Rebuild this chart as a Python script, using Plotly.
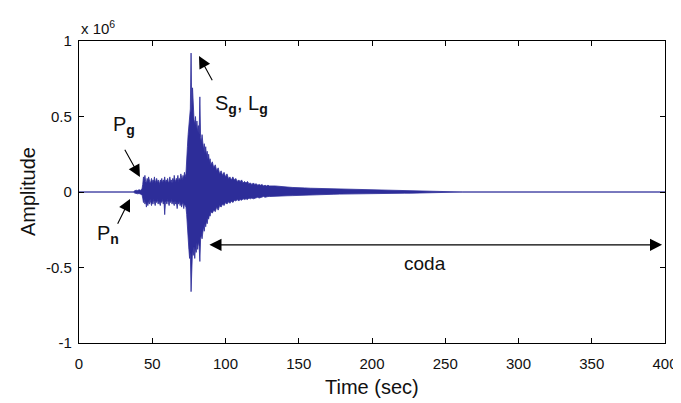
import plotly.graph_objects as go

# ---- data (amplitude in units of 1e6) ----
env_time = [0, 37, 38, 39, 40, 41, 42, 43, 43.5,
            44, 44.5, 45, 45.5, 46, 46.5, 47, 47.5, 48, 48.5, 49, 49.5, 50, 50.5, 51, 51.5,
            52, 52.5, 53, 53.5, 54, 54.5, 55, 55.5, 56, 56.5, 57, 57.5, 58, 58.5, 59, 59.5,
            60, 60.5, 61, 61.5, 62, 62.5, 63, 63.5, 64, 64.5, 65, 65.5, 66, 66.5, 67, 67.5,
            68, 68.5, 69, 69.5, 70, 70.5, 71, 71.5, 72, 72.5, 73,
            73.5, 74, 74.5, 75, 75.5, 76, 76.5, 77, 77.5, 78, 78.5, 79, 79.5, 80, 80.5, 81,
            81.5, 82, 82.5, 83, 83.5, 84, 84.5, 85, 85.5, 86, 86.5, 87, 87.5, 88, 88.5, 89,
            89.5, 90,
            91, 92, 93, 94, 95, 96, 97, 98, 99, 100, 101, 102, 103, 104, 105, 106, 107, 108,
            109, 110, 111, 112, 113, 114, 115, 116, 117, 118, 119, 120, 121, 122, 123, 124,
            125, 126, 127, 128, 129, 130,
            134, 138, 142, 146, 150, 154, 158, 162, 166, 170, 174, 178, 182, 186, 190, 194,
            198, 202, 206, 210, 214, 218, 222, 226, 230, 234, 238, 242, 246, 250, 254, 258,
            262, 400]

env_upper = [0, 0, 0.008, 0.012, 0.01, 0.015, 0.012, 0.02, 0.05,
             0.10, 0.08, 0.11, 0.07, 0.06, 0.09, 0.07, 0.10, 0.08, 0.06, 0.07, 0.09, 0.06, 0.08, 0.07, 0.10,
             0.06, 0.07, 0.09, 0.06, 0.08, 0.07, 0.05, 0.08, 0.07, 0.09, 0.06, 0.08, 0.07, 0.10, 0.06, 0.08,
             0.07, 0.09, 0.06, 0.07, 0.10, 0.07, 0.08, 0.06, 0.09, 0.07, 0.11, 0.08, 0.07, 0.09, 0.08, 0.11,
             0.07, 0.09, 0.08, 0.12, 0.09, 0.08, 0.11, 0.09, 0.13, 0.10, 0.12,
             0.18, 0.30, 0.38, 0.45, 0.50, 0.55, 0.92, 0.52, 0.69, 0.55, 0.48, 0.45, 0.50, 0.42, 0.47, 0.40,
             0.44, 0.38, 0.63, 0.36, 0.33, 0.38, 0.30, 0.28, 0.32, 0.26, 0.30, 0.24, 0.27, 0.22, 0.25, 0.20,
             0.22, 0.18,
             0.20, 0.16, 0.18, 0.14, 0.16, 0.12, 0.14, 0.11, 0.13, 0.10, 0.12, 0.09, 0.10, 0.08, 0.10, 0.08,
             0.09, 0.07, 0.08, 0.07, 0.08, 0.06, 0.07, 0.06, 0.07, 0.055, 0.06, 0.05, 0.06, 0.05, 0.055,
             0.045, 0.05, 0.045, 0.05, 0.04, 0.045, 0.04, 0.045, 0.04,
             0.04, 0.035, 0.033, 0.03, 0.03, 0.027, 0.025, 0.024, 0.022, 0.02, 0.019, 0.018, 0.017, 0.016,
             0.015, 0.014, 0.014, 0.013, 0.012, 0.012, 0.011, 0.01, 0.01, 0.009, 0.008, 0.007, 0.006,
             0.005, 0.004, 0.004, 0.003, 0.002, 0.0, 0.0]

env_lower = [0, 0, -0.007, -0.01, -0.012, -0.01, -0.014, -0.018, -0.04,
             -0.07, -0.05, -0.08, -0.06, -0.10, -0.07, -0.09, -0.06, -0.08, -0.05, -0.07, -0.09, -0.06, -0.08, -0.05, -0.07,
             -0.09, -0.06, -0.07, -0.05, -0.08, -0.06, -0.07, -0.09, -0.06, -0.07, -0.05, -0.08, -0.06, -0.15, -0.07, -0.06,
             -0.08, -0.05, -0.07, -0.09, -0.06, -0.07, -0.05, -0.08, -0.06, -0.07, -0.09, -0.06, -0.08, -0.07, -0.11, -0.07,
             -0.08, -0.06, -0.09, -0.07, -0.10, -0.08, -0.07, -0.11, -0.08, -0.09, -0.10,
             -0.15, -0.25, -0.32, -0.38, -0.44, -0.40, -0.66, -0.45, -0.38, -0.42, -0.36, -0.44, -0.37, -0.40, -0.34, -0.38,
             -0.33, -0.36, -0.46, -0.31, -0.28, -0.31, -0.25, -0.23, -0.26, -0.21, -0.23, -0.19, -0.21, -0.17, -0.18, -0.15,
             -0.16, -0.13,
             -0.14, -0.12, -0.13, -0.10, -0.12, -0.09, -0.10, -0.08, -0.09, -0.07, -0.08, -0.065, -0.075, -0.06, -0.07,
             -0.055, -0.06, -0.05, -0.06, -0.05, -0.055, -0.045, -0.05, -0.045, -0.05, -0.04, -0.045, -0.04, -0.045,
             -0.04, -0.04, -0.035, -0.04, -0.035, -0.035, -0.03, -0.035, -0.03, -0.03, -0.03,
             -0.03, -0.028, -0.025, -0.024, -0.022, -0.02, -0.02, -0.018, -0.017, -0.016, -0.015, -0.014, -0.013,
             -0.013, -0.012, -0.012, -0.011, -0.011, -0.01, -0.01, -0.009, -0.009, -0.008, -0.008, -0.007, -0.006,
             -0.005, -0.004, -0.004, -0.003, -0.003, -0.002, 0.0, 0.0]

x_ticks = [0, 50, 100, 150, 200, 250, 300, 350, 400]
y_ticks = [-1, -0.5, 0, 0.5, 1]
y_tick_text = ["-1", "-0.5", "0", "0.5", "1"]

WAVE = "#2d2d99"
FONT = "Liberation Sans, Arial, Helvetica, sans-serif"

fig = go.Figure()
fig.add_trace(go.Scatter(x=env_time, y=env_upper, mode="lines",
                         line=dict(color=WAVE, width=0.8), hoverinfo="skip", showlegend=False))
fig.add_trace(go.Scatter(x=env_time, y=env_lower, mode="lines", fill="tonexty",
                         fillcolor=WAVE, line=dict(color=WAVE, width=0.8),
                         hoverinfo="skip", showlegend=False))

axis_common = dict(showline=True, linecolor="black", linewidth=1.3, mirror="ticks",
                   ticks="inside", ticklen=5, tickwidth=1.3, tickcolor="black",
                   showgrid=False, zeroline=False, automargin=False,
                   tickfont=dict(family=FONT, size=15, color="#111"))

# page body has an 8px default margin, so the figure is sized/offset accordingly
fig.update_layout(
    width=673, height=395,
    margin=dict(l=71, r=16, t=33, b=60, autoexpand=False),
    paper_bgcolor="white", plot_bgcolor="white",
    font=dict(family=FONT, color="#111"),
    xaxis=dict(range=[0, 400], tickvals=x_ticks, ticklabelstandoff=7, **axis_common),
    yaxis=dict(range=[-1, 1], tickvals=y_ticks, ticktext=y_tick_text, ticklabelstandoff=3, **axis_common),
)

ann = []
# axis titles
ann.append(dict(text="Amplitude", xref="paper", yref="paper", x=-0.087, y=0.5,
                xanchor="center", yanchor="middle",
                textangle=-90, showarrow=False, font=dict(size=20, family=FONT, color="#111")))
ann.append(dict(text="Time (sec)", xref="paper", yref="paper", x=0.5, y=-0.146,
                xanchor="center", yanchor="middle",
                showarrow=False, font=dict(size=20, family=FONT, color="#111")))
ann.append(dict(text="x 10<sup>6</sup>", xref="paper", yref="paper", x=0.0, y=1.005,
                xanchor="left", yanchor="bottom", showarrow=False,
                font=dict(size=15, family=FONT, color="#111")))
# phase labels
lab_font = dict(size=20, family=FONT, color="#111")
ann.append(dict(text="P<sub><b>g</b></sub>", x=31, y=0.44, xref="x", yref="y",
                xanchor="center", yanchor="middle", showarrow=False, font=lab_font))
ann.append(dict(text="P<sub><b>n</b></sub>", x=20, y=-0.28, xref="x", yref="y",
                xanchor="center", yanchor="middle", showarrow=False, font=lab_font))
ann.append(dict(text="S<sub><b>g</b></sub>, L<sub><b>g</b></sub>", x=111, y=0.58, xref="x", yref="y",
                xanchor="center", yanchor="middle", showarrow=False, font=lab_font))
ann.append(dict(text="coda", x=236, y=-0.475, xref="x", yref="y",
                xanchor="center", yanchor="middle",
                showarrow=False, font=dict(size=19, family=FONT, color="#111")))
# arrows
arrow_common = dict(text="", showarrow=True, xref="x", yref="y", axref="x", ayref="y",
                    arrowcolor="black", arrowwidth=1.1, arrowhead=2, arrowsize=2.2)
ann.append(dict(x=41.6, y=0.10, ax=30.7, ay=0.29, **arrow_common))
ann.append(dict(x=34.8, y=-0.046, ax=25.9, ay=-0.22, **arrow_common))
ann.append(dict(x=81.9, y=0.90, ax=91.5, ay=0.73, **arrow_common))
ann.append(dict(x=398, y=-0.35, ax=88, ay=-0.35, arrowside="end+start", **arrow_common))

fig.update_layout(annotations=ann)
fig.write_html("out.html")
